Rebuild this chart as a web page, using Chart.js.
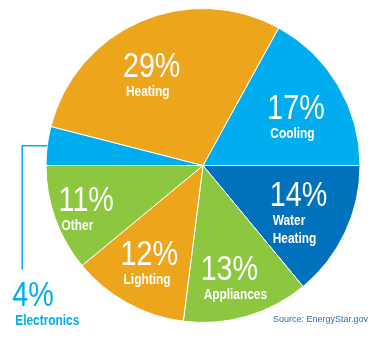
<!DOCTYPE html>
<html lang="en">
<head>
    <meta charset="UTF-8">
    <title>Home Energy Use</title>
    <script src="https://cdn.jsdelivr.net/npm/chart.js@4"></script>
    <style>
        body { margin: 0; background: #fff; }
        #wrap { width: 384px; height: 340px; }
    </style>
</head>
<body>
    <div id="wrap"><canvas id="energyChart" width="384" height="340"></canvas></div>

    <script>
        // Data (clockwise from the Heating/Cooling boundary)
        const categories = ['Cooling', 'Water Heating', 'Appliances', 'Lighting', 'Other', 'Electronics', 'Heating'];
        const shares = [17, 14, 13, 12, 11, 4, 29];
        const nameLines = [['Cooling'], ['Water', 'Heating'], ['Appliances'], ['Lighting'], ['Other'], ['Electronics'], ['Heating']];

        const ORANGE = '#EDA51C';
        const SKY = '#00AEEF';
        const NAVY = '#0071BC';
        const GREEN = '#8DC63F';
        const colors = [SKY, NAVY, GREEN, ORANGE, GREEN, SKY, ORANGE];

        // label anchor offsets from the pie centre, in units of the radius
        const labelOffset = [
            [0.41, -0.293], [0.425, 0.255], [-0.015, 0.732], [-0.525, 0.631],
            [-0.92, 0.287], [-1.215, 0.892], [-0.51, -0.561]
        ];

        // narrow sans: Liberation Sans squeezed to Arial Narrow proportions
        const SQUEEZE = 0.82;
        function narrowText(ctx, text, x, y) {
            ctx.save();
            ctx.translate(x, y);
            ctx.scale(SQUEEZE, 1);
            ctx.fillText(text, 0, 0);
            ctx.restore();
        }

        const labelPlugin = {
            id: 'sliceLabels',
            afterDraw(chart) {
                const ctx = chart.ctx;
                const arcs = chart.getDatasetMeta(0).data;
                ctx.save();
                arcs.forEach((arc, i) => {
                    const r = arc.outerRadius;
                    const x = arc.x + labelOffset[i][0] * r;
                    const y = arc.y + labelOffset[i][1] * r;
                    const outside = categories[i] === 'Electronics';
                    ctx.fillStyle = outside ? SKY : '#fff';
                    ctx.textAlign = 'left';
                    ctx.textBaseline = 'alphabetic';
                    ctx.font = '35px "Liberation Sans", Arial, sans-serif';
                    narrowText(ctx, shares[i] + '%', x, y);
                    ctx.font = 'bold 14.5px "Liberation Sans", Arial, sans-serif';
                    nameLines[i].forEach((line, k) => {
                        narrowText(ctx, line, x + 3, y + 19 + k * 18);
                    });

                    if (outside) {
                        // leader line from the slice edge down to the label
                        const mid = (arc.startAngle + arc.endAngle) / 2;
                        const ex = arc.x + Math.cos(mid) * r;
                        const ey = arc.y + Math.sin(mid) * r;
                        ctx.strokeStyle = SKY;
                        ctx.lineWidth = 1.5;
                        ctx.beginPath();
                        ctx.moveTo(ex, ey);
                        ctx.lineTo(x + 10, ey);
                        ctx.lineTo(x + 10, y - 36);
                        ctx.stroke();
                    }
                });

                ctx.fillStyle = '#2E6DB4';
                ctx.textAlign = 'right';
                ctx.font = '9px "Liberation Sans", Arial, sans-serif';
                ctx.fillText('Source: EnergyStar.gov', 368, 322);
                ctx.restore();
            }
        };

        new Chart(document.getElementById('energyChart'), {
            type: 'pie',
            data: {
                labels: categories,
                datasets: [{
                    data: shares,
                    backgroundColor: colors,
                    borderColor: '#fff',
                    borderWidth: 1
                }]
            },
            options: {
                responsive: false,
                animation: false,
                rotation: 28.8,
                layout: { padding: { left: 45, right: 23, top: 8, bottom: 17 } },
                plugins: {
                    legend: { display: false },
                    tooltip: { enabled: false }
                }
            },
            plugins: [labelPlugin]
        });
    </script>
</body>
</html>
